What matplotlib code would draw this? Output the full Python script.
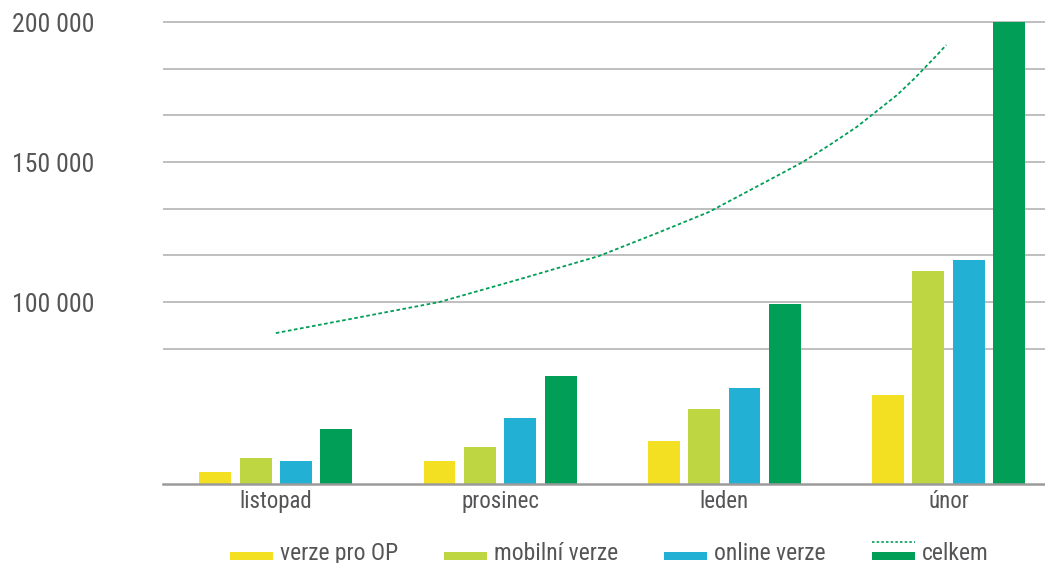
import numpy as np
import matplotlib
matplotlib.use('Agg')
import matplotlib.pyplot as plt
from matplotlib.patches import Rectangle, Patch
from matplotlib.lines import Line2D
from matplotlib.legend_handler import HandlerBase

plt.rcParams['font.family'] = ['Roboto Condensed', 'DejaVu Sans']

months = ['listopad', 'prosinec', 'leden', 'únor']
series = ['verze pro OP', 'mobilní verze', 'online verze', 'celkem']
op_vals = [39300, 43200, 50400, 66800]
mobil_vals = [44300, 48200, 61800, 111100]
online_vals = [43200, 58600, 69300, 115000]
celkem_vals = [54600, 73600, 99300, 200000]

# dotted trend of "celkem" (x in category units)
trend_x = [0.0, 0.37, 0.73, 1.09, 1.44, 1.70, 1.93, 2.25, 2.35, 2.47, 2.59,
           2.68, 2.77, 2.85, 2.94, 2.99]
trend_vals = [88900, 94500, 100000, 108200, 116400, 124600, 132100, 145700,
              150000, 156100, 162500, 168200, 173900, 180000, 187500, 191800]

yticks = [100000, 150000, 200000]
ytick_labels = ['100 000', '150 000', '200 000']

yellow = '#f4e022'
lime = '#bed641'
blue = '#22b1d4'
green = '#009e57'
txt = '#555557'

fig = plt.figure(figsize=(10.45, 5.63), dpi=100)
ax = fig.add_axes([0.156, 0.1403, 0.844, 0.8597])

x = np.arange(len(months))
w = 0.1425
step = 0.18
for i, (vals, col) in enumerate(zip([op_vals, mobil_vals, online_vals, celkem_vals],
                                    [yellow, lime, blue, green])):
    ax.bar(x + (i - 1.5) * step, vals, width=w, color=col, zorder=3)

ax.plot(trend_x, trend_vals, color=green, lw=1.3, ls=(0, (2, 1.4)), zorder=4)

ax.set_xlim(-0.503, 3.43)
ax.set_ylim(35000, 207857)

# gridlines
grid_vals = [200000 - k * 50000 / 3 for k in range(8)]
ax.set_yticks(grid_vals, minor=True)
ax.yaxis.grid(True, which='both', color='#b4b4b4', lw=1.2, zorder=1)
ax.tick_params(axis='y', which='minor', length=0)

ax.set_yticks(yticks)
ax.set_yticklabels(ytick_labels, fontsize=18.5, color=txt, ha='left')
ax.tick_params(axis='y', which='major', length=0, pad=108.7)

ax.set_xticks(x)
ax.set_xticklabels(months, fontsize=16.5, color=txt)
ax.tick_params(axis='x', length=0, pad=4)

for s in ['top', 'right', 'left']:
    ax.spines[s].set_visible(False)
ax.spines['bottom'].set_color('#9a9a9a')
ax.spines['bottom'].set_linewidth(1.8)
ax.spines['bottom'].set_zorder(5)


class BarHandler(HandlerBase):
    # flat swatch sitting on the text baseline, optional dotted line above
    def __init__(self, dotted=False):
        super().__init__()
        self.dotted = dotted

    def create_artists(self, legend, orig, xd, yd, width, height, fontsize, trans):
        arts = [Rectangle((-xd, 0), width, 5.8, fc=orig.get_facecolor(), ec='none',
                          transform=trans)]
        if self.dotted:
            arts.append(Line2D([-xd, -xd + width], [12.5, 12.5], color=green, lw=1.2,
                               ls=(0, (1.5, 1.3)), transform=trans))
        return arts


handles = [Patch(fc=yellow), Patch(fc=lime), Patch(fc=blue), Patch(fc=green)]
hmap = {h: BarHandler() for h in handles[:3]}
hmap[handles[3]] = BarHandler(dotted=True)
leg = fig.legend(handles, series, loc='lower center', bbox_to_anchor=(0.583, -0.024),
                 ncol=4, frameon=False, fontsize=17, handlelength=1.82,
                 handletextpad=0.3, columnspacing=1.95, borderpad=0,
                 handler_map=hmap)
for t in leg.get_texts():
    t.set_color(txt)

fig.savefig('out.png', dpi=100)
